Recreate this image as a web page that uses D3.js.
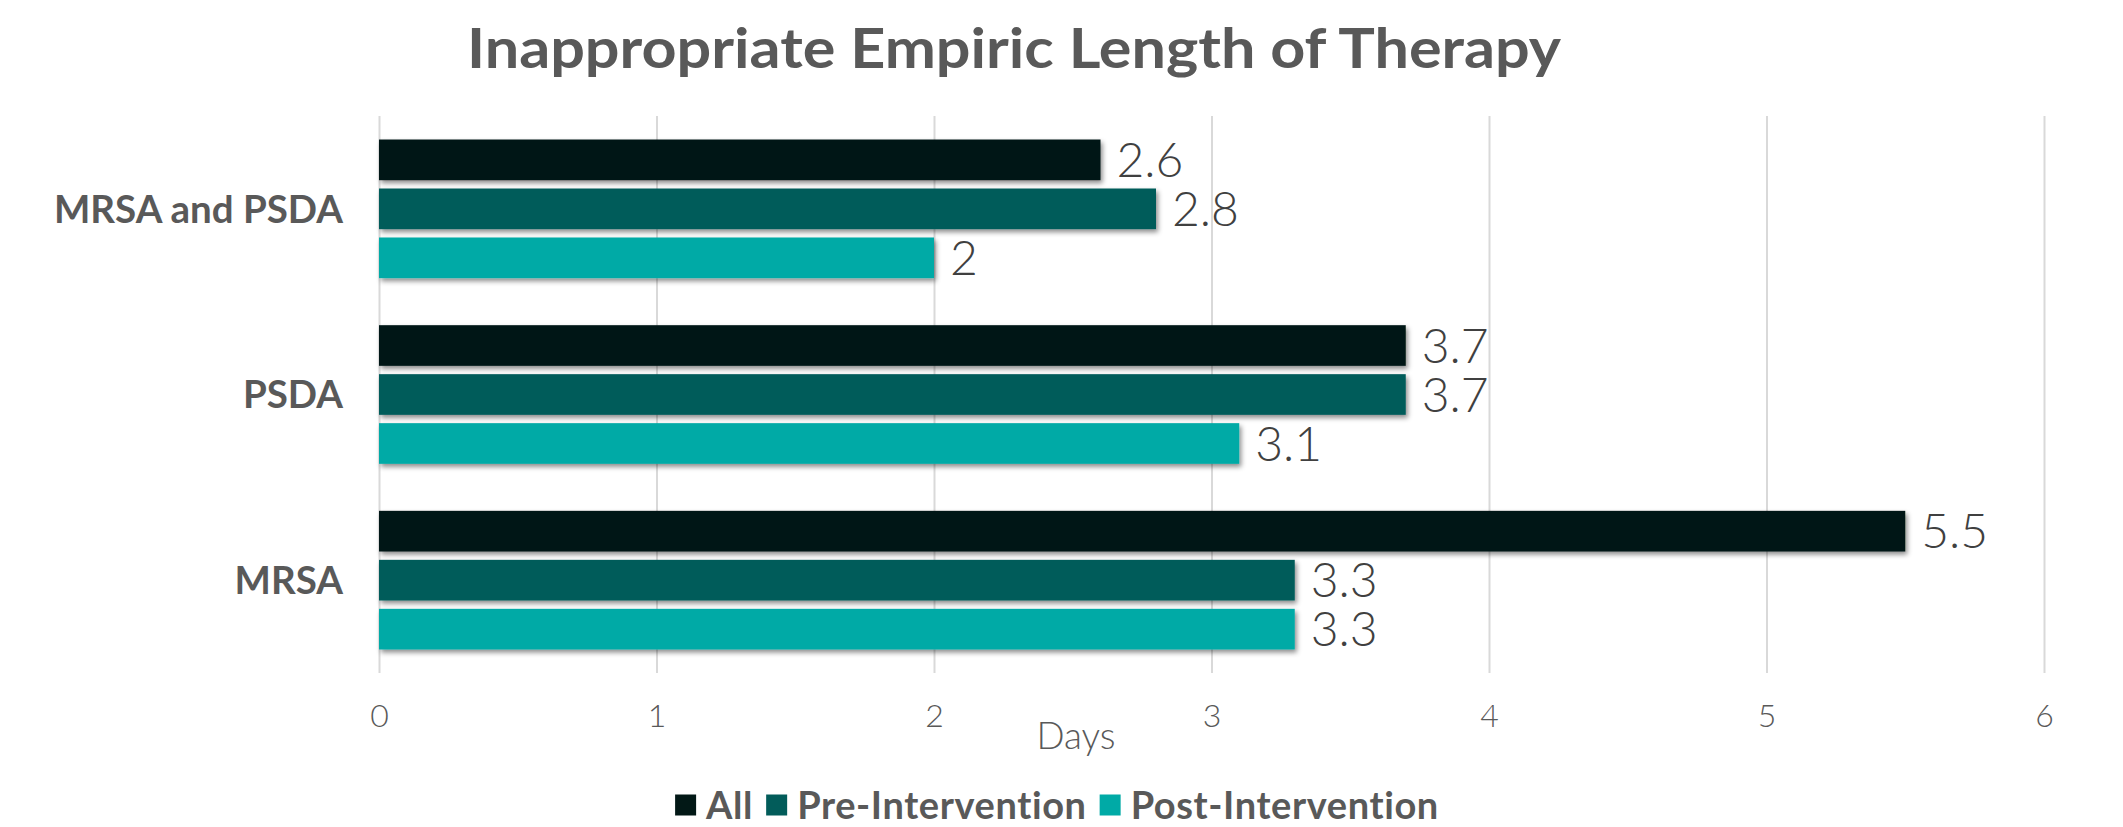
<!DOCTYPE html>
<head>
  <meta charset="utf-8">
  <script src="https://d3js.org/d3.v7.min.js"></script>
  <style>
    body { margin: 0; background: #fff; }
    text { font-family: 'Lato', 'Open Sans', sans-serif; }
    .title { font-size: 55px; font-weight: 700; fill: #595959; }
    .catLabel { font-size: 38.5px; font-weight: 700; fill: #595959; }
    .valLabel { font-size: 48px; font-weight: 300; fill: #404040; }
    .axis text { font-size: 32px; font-weight: 300; fill: #595959; }
    .axis path { stroke: none; }
    .axis line { stroke: #d9d9d9; stroke-width: 2px; }
    .axisTitle { font-size: 37px; font-weight: 300; fill: #595959; }
    .legendText { font-size: 38px; font-weight: 700; fill: #595959; letter-spacing: 0.6px; }
  </style>
</head>
<body>
<div id="chart"></div>
<script>

////////////////////////////// data //////////////////////////////
const categories = ["MRSA and PSDA", "PSDA", "MRSA"];
const series = ["All", "Pre-Intervention", "Post-Intervention"];
const colors = ["#021816", "#025c5a", "#00aaa6"];
const allValues = [2.6, 3.7, 5.5];
const preValues = [2.8, 3.7, 3.3];
const postValues = [2, 3.1, 3.3];
const xTicks = [0, 1, 2, 3, 4, 5, 6];

const rows = [];
categories.forEach((c, i) => {
  [allValues, preValues, postValues].forEach((vals, j) => {
    rows.push({ cat: c, series: series[j], value: vals[i] });
  });
});

////////////////////////////// setup //////////////////////////////
const W = 2123, H = 827;
const plot = { left: 379, right: 2044, top: 116, bottom: 673 };

const svg = d3.select("#chart").append("svg")
  .attr("width", W).attr("height", H);

const defs = svg.append("defs");
const f = defs.append("filter").attr("id", "shadow")
  .attr("x", "-5%").attr("y", "-30%").attr("width", "115%").attr("height", "170%");
f.append("feDropShadow").attr("dx", 2).attr("dy", 3).attr("stdDeviation", 2.5)
  .attr("flood-color", "#000").attr("flood-opacity", 0.45);

const x = d3.scaleLinear().domain([0, 6]).range([plot.left, plot.right]);
const y0 = d3.scaleBand().domain(categories).range([plot.top, plot.bottom]);
const y1 = d3.scaleBand().domain(series).range([0, y0.bandwidth()])
  .paddingInner(0.17).paddingOuter(0.48);
const color = d3.scaleOrdinal().domain(series).range(colors);

////////////////////////////// axis + grid //////////////////////////////
svg.append("g").attr("class", "axis")
  .attr("transform", `translate(0,${plot.bottom})`)
  .call(d3.axisBottom(x).tickValues(xTicks).tickFormat(d3.format("d"))
    .tickSizeInner(-(plot.bottom - plot.top)).tickSizeOuter(0).tickPadding(31));

svg.append("text").attr("class", "axisTitle")
  .attr("x", 1076).attr("y", 749).attr("text-anchor", "middle").text("Days");

////////////////////////////// bars //////////////////////////////
svg.append("g").selectAll("rect").data(rows).enter().append("rect")
  .attr("x", x(0))
  .attr("y", d => y0(d.cat) + y1(d.series))
  .attr("width", d => x(d.value) - x(0))
  .attr("height", y1.bandwidth())
  .attr("fill", d => color(d.series))
  .attr("filter", "url(#shadow)");

svg.append("g").selectAll("text").data(rows).enter().append("text")
  .attr("class", "valLabel")
  .attr("x", d => x(d.value) + 16)
  .attr("y", d => y0(d.cat) + y1(d.series) + y1.bandwidth() / 2)
  .attr("dy", "0.36em")
  .text(d => d.value);

svg.append("g").selectAll("text").data(categories).enter().append("text")
  .attr("class", "catLabel")
  .attr("x", 343)
  .attr("y", d => y0(d) + y0.bandwidth() / 2)
  .attr("dy", "0.36em")
  .attr("text-anchor", "end")
  .text(d => d);

////////////////////////////// title //////////////////////////////
svg.append("text").attr("class", "title")
  .attr("x", 467).attr("y", 68)
  .attr("textLength", 1094).attr("lengthAdjust", "spacingAndGlyphs")
  .text("Inappropriate Empiric Length of Therapy");

////////////////////////////// legend //////////////////////////////
const legend = svg.append("g");
let lx = 0;
series.forEach((s, i) => {
  legend.append("rect").attr("x", lx).attr("y", -10.5)
    .attr("width", 21).attr("height", 21).attr("fill", colors[i]);
  const t = legend.append("text").attr("class", "legendText")
    .attr("x", lx + 31).attr("y", 0).attr("dy", "0.36em").text(s);
  lx += 31 + t.node().getComputedTextLength() + 13;
});
lx -= 13;
legend.attr("transform", `translate(${1057 - lx / 2},805)`);

</script>
</body>
